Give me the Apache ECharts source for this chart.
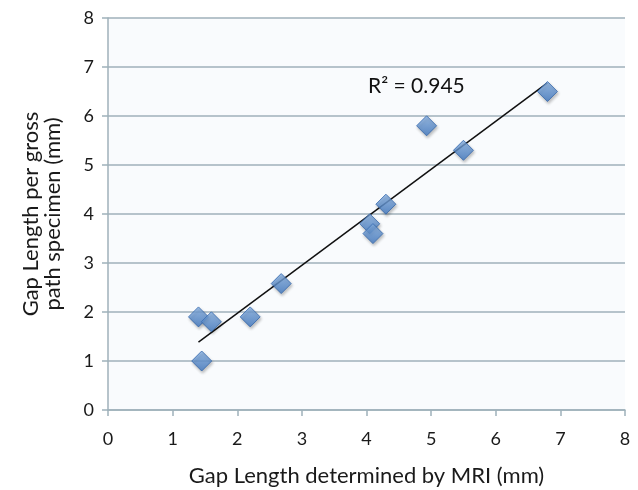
<!DOCTYPE html>
<html>
<head>
<meta charset="utf-8">
<script src="https://cdn.jsdelivr.net/npm/echarts@6/dist/echarts.min.js"></script>
<style>
  html, body { margin: 0; padding: 0; background: #fff; }
  #chart { width: 638px; height: 490px; }
</style>
</head>
<body>
<div id="chart"></div>
<script>
// values
const mriGap = [1.4, 1.6, 1.45, 2.2, 2.68, 4.05, 4.1, 4.3, 4.93, 5.5, 6.8];
const pathGap = [1.9, 1.8, 1.0, 1.9, 2.58, 3.8, 3.6, 4.2, 5.8, 5.3, 6.5];
const rSquaredText = 'R² = 0.945';

// least squares trend line, like the spreadsheet's
function trend(xs, ys) {
    let n = xs.length, mx = 0, my = 0;
    for (let i = 0; i < n; i++) { mx += xs[i]; my += ys[i]; }
    mx /= n; my /= n;
    let sxy = 0, sxx = 0;
    for (let i = 0; i < n; i++) {
        sxy += (xs[i] - mx) * (ys[i] - my);
        sxx += (xs[i] - mx) * (xs[i] - mx);
    }
    const b = sxy / sxx, a = my - b * mx;
    const x0 = Math.min(...xs), x1 = Math.max(...xs);
    return [[x0, a + b * x0], [x1, a + b * x1]];
}

const font = 'Lato, "Open Sans", sans-serif';
const gridColor = '#9fb1ba';

const option = {
    backgroundColor: '#fff',
    textStyle: { fontFamily: font },
    grid: {
        left: 108, right: 13, top: 18, bottom: 80,
        outerBoundsMode: 'none',
        containLabel: false,
        show: true, backgroundColor: '#f9fbfd', borderWidth: 0
    },
    xAxis: {
        type: 'value', min: 0, max: 8, interval: 1,
        name: 'Gap Length determined by MRI (mm)',
        nameLocation: 'middle', nameGap: 55,
        nameTextStyle: { fontSize: 22, color: '#1a1a1a', fontFamily: font },
        axisLine: { lineStyle: { color: gridColor, width: 1.5 } },
        axisTick: { show: true, length: 6, lineStyle: { color: gridColor, width: 1.5 } },
        axisLabel: { fontSize: 18, color: '#1a1a1a', margin: 20, fontFamily: font },
        splitLine: { show: false }
    },
    yAxis: {
        type: 'value', min: 0, max: 8, interval: 1,
        name: 'Gap Length per gross\npath specimen (mm)',
        nameLocation: 'middle', nameGap: 44,
        nameTextStyle: { fontSize: 22, color: '#1a1a1a', lineHeight: 22, fontFamily: font },
        axisLine: { show: true, lineStyle: { color: gridColor, width: 1.5 } },
        axisTick: { show: true, length: 6, lineStyle: { color: gridColor, width: 1.5 } },
        axisLabel: { fontSize: 18, color: '#1a1a1a', margin: 14, fontFamily: font },
        splitLine: { show: true, lineStyle: { color: gridColor, width: 1.5 } }
    },
    series: [
        {
            type: 'line',
            data: trend(mriGap, pathGap),
            symbol: 'none',
            lineStyle: { color: '#111', width: 1.5 },
            z: 3,
            silent: true
        },
        {
            type: 'scatter',
            data: mriGap.map((x, i) => [x, pathGap[i]]),
            symbol: 'diamond',
            symbolSize: [20, 20],
            itemStyle: {
                color: new echarts.graphic.LinearGradient(0, 0, 0, 1, [
                    { offset: 0, color: '#8ab4e6' },
                    { offset: 1, color: '#3f78c2' }
                ]),
                borderColor: '#3568ad',
                borderWidth: 1,
                shadowColor: 'rgba(0,0,0,0.3)',
                shadowBlur: 3,
                shadowOffsetX: 1,
                shadowOffsetY: 2
            },
            z: 4
        }
    ],
    graphic: [
        {
            type: 'text',
            left: 368, top: 76,
            style: { text: rSquaredText, fontSize: 21, fill: '#111', fontFamily: font }
        }
    ]
};

const chart = echarts.init(document.getElementById('chart'));
chart.setOption(option);
</script>
</body>
</html>
